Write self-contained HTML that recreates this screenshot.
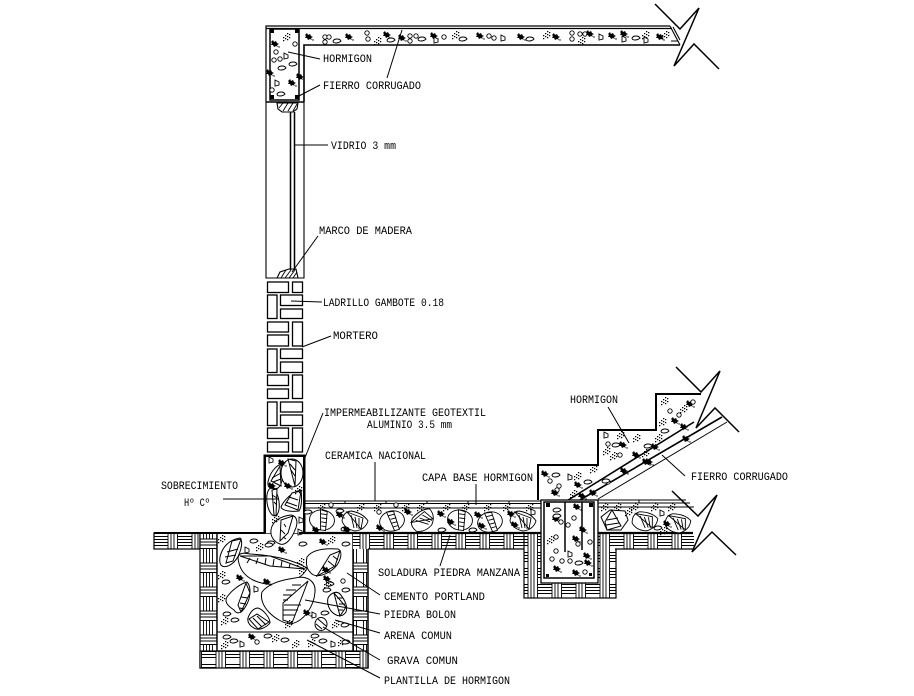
<!DOCTYPE html>
<html><head><meta charset="utf-8"><style>html,body{margin:0;padding:0;background:#fff}svg{display:block}text{font-family:"Liberation Mono",monospace;font-size:11px;fill:#000}</style></head><body>
<svg width="914" height="696" viewBox="0 0 914 696" xmlns="http://www.w3.org/2000/svg">
<defs>
<pattern id="w" width="24" height="16" patternUnits="userSpaceOnUse" patternTransform="translate(154 533)">
<rect width="24" height="16" fill="#fff"/><path d="M0 3.500H14M0 6.500H14M0 9.500H14M0 12.500H14M14 0V16M17 0V16M20 0V16M23.500 0V16" stroke="#000" stroke-width=".9" fill="none"/></pattern>
<pattern id="v" width="16" height="24" patternUnits="userSpaceOnUse" patternTransform="translate(200 549)">
<rect width="16" height="24" fill="#fff"/><path d="M3.500 0V14M6.500 0V14M9.500 0V14M12.500 0V14M0 14H16M0 17H16M0 20H16M0 23.500H16" stroke="#000" stroke-width=".9" fill="none"/></pattern>
<g id="a" fill="#000"><path d="M0 2l2-2 1 2 2-1 1 2 2 1-2 1 1 2-2-1-2 1-1-2-2 0 1-2z"/><circle cx="8" cy="7" r=".7"/></g>
<g id="b" fill="#000"><path d="M0 4h1.300v1.300H0zM2 2h1.300v1.300H2zM4 0h1.300v1.300H4zM2 5h1.300v1.300H2zM4 3h1.300v1.300H4zM6 1h1.300v1.300H6zM4 6h1.300v1.300H4zM6 4h1.300v1.300H6zM0 7h1.300v1.300H0z"/></g>
<circle id="c" r="2.200" fill="#fff" stroke="#000" stroke-width=".9"/>
<path id="d" d="M-4 0Q-3-2 0-2T4 0Q2 2-1 2T-4 0z" fill="#fff" stroke="#000" stroke-width=".9"/>
<path id="e" d="M-2-3L2-1 2 2-2 3z" fill="#fff" stroke="#000" stroke-width=".9"/>
<g id="s" fill="#fff" stroke="#000" stroke-width=".9"><ellipse rx="12.500" ry="10"/><path d="M-3-10L4-9 5 10 0 10z"/><path d="M-2-6L4-6M-1-2L5-2M-1 2L5 2M0 6L5 6" fill="none"/></g>
<g id="t" fill="#fff" stroke="#000" stroke-width=".9"><path d="M-13 0Q-12-9-4-10Q8-8 13 0Q10 9 0 10Q-10 8-13 0z"/><path d="M-8-9L8-3 6 8z"/><path d="M-4-6L-1 7M0-4L2 7M4-3L4 8" fill="none"/></g>
</defs>
<rect width="914" height="696" fill="#fff"/>

<!-- ROOF SLAB & COLUMN -->
<g fill="none" stroke="#000">
<path d="M266 102V26H670M266 28.500H672" stroke-width="1.200"/>
<path d="M304 102V45H680" stroke-width="1.600"/>
<path d="M670 26L680 45M673 27L680 40M671 41H678" stroke-width="1.100"/>
<path d="M270 100V29H299V100z" stroke-width="1.500"/>
<path d="M266 102H304" stroke-width="1.400"/>
<path d="M655 4L680 29 699 8 674 66 694 44 719 69" stroke-width="1.500"/>
</g>
<g fill="#000"><rect x="270" y="29" width="4" height="4"/><rect x="295" y="29" width="4" height="4"/><rect x="270" y="95" width="4" height="4"/><rect x="295" y="95" width="4" height="4"/></g>
<use href="#a" x="271" y="40"/><use href="#a" x="266" y="69"/><use href="#a" x="288" y="79"/><use href="#a" x="296" y="73"/>
<use href="#b" x="283" y="33"/><use href="#c" x="276" y="52"/><use href="#c" x="274" y="60"/><use href="#c" x="280" y="59"/><use href="#d" x="282" y="68"/><use href="#d" x="281" y="94"/><use href="#e" x="286" y="56"/><use href="#e" x="277" y="83"/><use href="#c" x="272" y="90"/><use href="#c" x="295" y="44"/><use href="#d" x="293" y="64"/>
<g id="sl">
<use href="#a" x="305" y="33"/><use href="#c" x="325" y="37"/><use href="#c" x="329" y="37"/><use href="#c" x="325" y="42"/><use href="#d" x="337" y="41"/><use href="#a" x="345" y="33"/><use href="#c" x="367" y="33"/><use href="#c" x="368" y="39"/><use href="#b" x="374" y="37"/><use href="#a" x="383" y="31"/><use href="#d" x="391" y="40"/><use href="#a" x="398" y="34"/><use href="#c" x="410" y="36"/><use href="#c" x="416" y="36"/><use href="#c" x="410" y="41"/><use href="#d" x="422" y="39"/><use href="#a" x="430" y="32"/><use href="#e" x="436" y="40"/><use href="#c" x="444" y="37"/><use href="#b" x="452" y="31"/><use href="#d" x="463" y="39"/><use href="#a" x="476" y="32"/><use href="#c" x="489" y="36"/><use href="#c" x="494" y="38"/><use href="#e" x="503" y="38"/><use href="#a" x="517" y="33"/><use href="#d" x="530" y="39"/><use href="#b" x="543" y="31"/><use href="#a" x="552" y="33"/><use href="#c" x="572" y="33"/><use href="#c" x="572" y="39"/><use href="#c" x="580" y="34"/><use href="#c" x="585" y="34"/><use href="#b" x="578" y="37"/><use href="#a" x="586" y="30"/><use href="#e" x="601" y="37"/><use href="#a" x="608" y="32"/><use href="#a" x="620" y="30"/><use href="#e" x="624" y="39"/><use href="#d" x="636" y="38"/><use href="#b" x="642" y="31"/><use href="#e" x="646" y="40"/><use href="#a" x="656" y="33"/><use href="#b" x="662" y="31"/>
</g>

<!-- WINDOW -->
<g fill="none" stroke="#000">
<path d="M266 102V278H304V102" stroke-width="1.100"/>
<path d="M290.500 112V270M294.500 112V270" stroke-width="1.500"/>
<path d="M277 103H298L297 109 293 112H282L278 109z" stroke-width="1.100"/>
<path d="M283 103L279 108M288 103L283 111M293 103L288 111M297 104L293 111" stroke-width=".9"/>
<path d="M277 278L280 272 289 269H296L298 278" stroke-width="1.100"/>
<path d="M281 278L286 270M285 278L291 270M289 278L295 270M293 278L297 272" stroke-width=".9"/>
</g>

<!-- BRICKS -->
<g fill="#fff" stroke="#000" stroke-width="1.300">
<rect x="267.500" y="282" width="21" height="10.500"/><rect x="292.500" y="282" width="10" height="10.500"/>
<rect x="267.500" y="295" width="9.500" height="23.500"/><rect x="280.500" y="295" width="22" height="10.500"/><rect x="280.500" y="309" width="22" height="9.500"/>
<rect x="267.500" y="322" width="21" height="10"/><rect x="267.500" y="335" width="21" height="11"/><rect x="292.500" y="322" width="10" height="24"/>
<rect x="267.500" y="349" width="9.500" height="23.500"/><rect x="280.500" y="349" width="22" height="9.500"/><rect x="280.500" y="362" width="22" height="10.500"/>
<rect x="267.500" y="375" width="21" height="10.500"/><rect x="267.500" y="389" width="21" height="9.500"/><rect x="292.500" y="375" width="10" height="23.500"/>
<rect x="267.500" y="402" width="9.500" height="23.500"/><rect x="280.500" y="402" width="22" height="10"/><rect x="280.500" y="415" width="22" height="10.500"/>
<rect x="267.500" y="428" width="21" height="10.500"/><rect x="267.500" y="442" width="21" height="10"/><rect x="292.500" y="428" width="10" height="24"/>
</g>

<!-- FOOTING 1 -->
<rect x="154" y="533" width="46" height="16" fill="url(#w)" stroke="#000" stroke-width="1.200"/>
<rect x="200" y="533" width="17" height="135" fill="url(#v)" stroke="#000" stroke-width="1.200"/>
<rect x="353" y="533" width="15" height="135" fill="url(#v)" stroke="#000" stroke-width="1.200"/>
<rect x="200" y="651" width="168" height="17" fill="url(#w)" stroke="#000" stroke-width="1.200"/>
<rect x="217" y="533" width="136" height="118" fill="#fff" stroke="#000" stroke-width="1.400"/>
<path d="M217 632H353" stroke="#000" stroke-width="1.100"/>
<rect x="353" y="533" width="171" height="16" fill="url(#w)"/>
<rect x="524" y="533" width="92" height="65" fill="url(#w)" stroke="#000" stroke-width="1.200"/>
<rect x="615" y="533" width="79" height="16" fill="url(#w)"/>
<path d="M368 549H524M368 549V668M615 549H693M353 533H540" stroke="#000" stroke-width="1.300" fill="none"/>

<!-- STONES IN FOOTING -->
<g fill="#fff" stroke="#000" stroke-width="1">
<path d="M220 557C222 548 228 540 240 538C244 542 240 556 234 562C228 568 218 570 220 557z"/><path d="M232 541L241 539 233 561 226 563z"/><path d="M227 552L238 549M225 557L236 555" fill="none"/>
<path d="M238 558C239 552 244 553 250 554C268 555 290 558 307 568C304 576 294 582 280 584C262 586 240 580 238 558z"/><path d="M240 556L270 556 305 569 270 566z"/><path d="M250 558L247 563M258 558L256 564M266 558L265 565M274 559L273 566M282 561L281 567M290 564L289 568" fill="none"/>
<path d="M262 592C268 584 280 580 295 578C308 575 316 582 315 592C314 606 304 622 290 624C276 622 258 606 262 592z"/><path d="M308 581L283 603 283 620 292 623z"/><path d="M301 585H292M296 590H286M292 595H283M288 600H283M284 605H301M283 610H298M283 615H295" fill="none"/>
<path d="M307 557C312 550 324 548 338 549C344 552 340 564 332 570C324 576 314 578 310 572C306 568 306 562 307 557z"/><path d="M340 551L330 555 317 576 335 566z"/><path d="M333 556L338 560M328 561L334 566M323 567L329 571" fill="none"/>
<path d="M227 597C232 590 240 584 247 582C251 586 251 596 247 604C243 612 238 616 234 610C228 606 224 602 227 597z"/><path d="M246 583L250 593 241 612 238 605z"/><path d="M241 597L248 598M240 603L246 604M240 608L244 609" fill="none"/>
<path d="M248 618C250 612 254 608 258 608C264 610 270 618 270 623C266 628 258 631 254 628C250 626 247 622 248 618z"/><path d="M249 619L257 614 269 622 258 629z"/><path d="M253 618L262 627M257 616L266 625" fill="none"/>
<path d="M328 598C330 594 336 590 340 594C345 600 348 606 346 612C342 618 336 616 332 612C328 608 327 602 328 598z"/><path d="M334 593L346 607 340 616z"/><path d="M337 598H343M339 604H345M339 610H343" fill="none"/>
<ellipse cx="321" cy="624" rx="6" ry="6.500"/><path d="M318 619L326 626M316 624L322 629" fill="none"/>
</g>
<use href="#b" x="218" y="535"/><use href="#b" x="256" y="543"/><use href="#a" x="278" y="546"/><use href="#a" x="319" y="538"/><use href="#b" x="328" y="536"/><use href="#d" x="254" y="541"/><use href="#d" x="271" y="543"/><use href="#d" x="269" y="545"/><use href="#d" x="303" y="544"/><use href="#d" x="346" y="544"/>
<use href="#e" x="247" y="550"/><use href="#b" x="218" y="571"/><use href="#a" x="236" y="574"/><use href="#a" x="263" y="578"/><use href="#b" x="297" y="558"/><use href="#a" x="322" y="566"/><use href="#b" x="299" y="566"/><use href="#a" x="323" y="575"/><use href="#d" x="226" y="582"/><use href="#d" x="330" y="584"/><use href="#b" x="218" y="594"/><use href="#e" x="256" y="589"/><use href="#d" x="327" y="590"/><use href="#c" x="343" y="581"/><use href="#d" x="346" y="590"/><use href="#b" x="324" y="580"/>
<use href="#d" x="227" y="614"/><use href="#b" x="221" y="617"/><use href="#d" x="235" y="620"/><use href="#a" x="303" y="609"/><use href="#e" x="314" y="615"/><use href="#d" x="325" y="613"/><use href="#b" x="332" y="620"/><use href="#d" x="345" y="625"/><use href="#b" x="285" y="620"/>
<use href="#d" x="227" y="637"/><use href="#d" x="234" y="641"/><use href="#e" x="242" y="644"/><use href="#b" x="221" y="641"/><use href="#a" x="248" y="633"/><use href="#c" x="257" y="642"/><use href="#d" x="268" y="636"/><use href="#b" x="272" y="634"/><use href="#d" x="285" y="640"/><use href="#b" x="292" y="640"/><use href="#b" x="308" y="639"/><use href="#d" x="315" y="636"/><use href="#d" x="323" y="641"/><use href="#e" x="333" y="644"/><use href="#b" x="338" y="638"/><use href="#d" x="346" y="642"/>

<!-- SOBRECIMIENTO -->
<path d="M265 533V456H304V533" fill="#fff" stroke="#000" stroke-width="2"/>
<g fill="#fff" stroke="#000" stroke-width="1">
<path d="M268 482C270 472 276 466 281 464C284 472 283 484 278 488C272 490 267 488 268 482z"/><path d="M271 481L280 466 281 486z"/><path d="M272 478L281 473M273 482L281 479" fill="none"/>
<ellipse cx="292" cy="473" rx="11" ry="14"/><path d="M288 459L296 461 295 486z"/><path d="M290 464L295 470M291 470L295 476" fill="none"/>
<ellipse cx="273" cy="502" rx="6" ry="14" transform="rotate(-8 273 502)"/><path d="M272 490L277 489 276 516 274 515z"/><path d="M272 495L277 498M274 502L277 505" fill="none"/>
<path d="M281 507C284 500 292 492 301 490C302 498 302 506 299 511C292 512 282 511 281 507z"/><path d="M285 505L292 493 301 491 298 510z"/><path d="M289 497L298 500M286 502L297 506" fill="none"/>
<path d="M271 530C272 522 280 516 291 515C298 516 298 524 295 530C292 538 286 546 280 544C274 542 270 536 271 530z"/><path d="M280 541L281 520 293 516 288 533z"/><path d="M284 524L286 527M281 530L285 534M283 537L286 539" fill="none"/>
</g>
<use href="#a" x="278" y="459"/><use href="#e" x="271" y="460"/><use href="#a" x="268" y="482"/><use href="#a" x="284" y="482"/><use href="#b" x="295" y="486"/><use href="#b" x="272" y="515"/><use href="#e" x="301" y="520"/><use href="#e" x="300" y="532"/>
<path d="M264.500 534V455.500H304.500V533H299" fill="none" stroke="#000" stroke-width="2"/>
<path d="M154 533H265" stroke="#000" stroke-width="2"/>

<!-- FLOOR -->
<g fill="none" stroke="#000">
<path d="M304 501H541M304 503.500H541M304 508H541" stroke-width="1"/>
<path d="M304 533H541" stroke-width="2.200"/>
<path d="M345 501V504M386 501V504M427 501V504M468 501V504M509 501V504" stroke-width="1"/>
</g>
<g id="fl">
<use href="#b" x="318" y="503"/><use href="#c" x="331" y="505"/><use href="#b" x="357" y="503"/><use href="#b" x="374" y="503"/><use href="#c" x="396" y="505"/><use href="#b" x="402" y="503"/><use href="#b" x="417" y="503"/><use href="#b" x="443" y="503"/><use href="#b" x="462" y="503"/><use href="#b" x="484" y="503"/><use href="#b" x="503" y="503"/><use href="#b" x="526" y="503"/>
</g>
<use href="#s" transform="translate(322 520) rotate(8)"/><use href="#t" transform="translate(355 521)"/><use href="#s" transform="translate(392 521) rotate(-15)"/><use href="#t" transform="translate(423 520) rotate(-60)"/><use href="#s" transform="translate(460 520) rotate(8)"/><use href="#s" transform="translate(490 522) rotate(-15)"/><use href="#t" transform="translate(523 521)"/>
<use href="#d" x="308" y="512"/><use href="#d" x="340" y="511"/><use href="#a" x="312" y="526"/><use href="#a" x="336" y="511"/><use href="#d" x="345" y="529"/><use href="#a" x="343" y="526"/><use href="#a" x="376" y="524"/><use href="#c" x="379" y="512"/><use href="#a" x="404" y="508"/><use href="#a" x="437" y="510"/><use href="#d" x="442" y="530"/><use href="#a" x="447" y="518"/><use href="#d" x="473" y="530"/><use href="#a" x="474" y="511"/><use href="#a" x="478" y="522"/><use href="#a" x="507" y="510"/><use href="#a" x="511" y="521"/><use href="#e" x="533" y="512"/>

<!-- RIGHT STAIRS + BEAM -->
<path d="M538 500V465H598V430H656V394H710L696 428 565 502z" fill="#fff" stroke="none"/>
<g fill="none" stroke="#000">
<path d="M538 500V465H598V430H656V394H701" stroke-width="2"/>
<path d="M676 367L701 392 720 371 696 428 715 408 739 432" stroke-width="1.500"/>
<path d="M565 502L694 422" stroke-width="1.600"/>
<path d="M580 500L722 417" stroke-width="1.600"/>
<path d="M598 499L727 422" stroke-width="1"/>
</g>
<use href="#a" x="541" y="470"/><use href="#c" x="550" y="481"/><use href="#d" x="556" y="475"/><use href="#e" x="570" y="477"/><use href="#b" x="574" y="472"/><use href="#c" x="559" y="486"/><use href="#c" x="557" y="490"/><use href="#a" x="551" y="489"/><use href="#a" x="574" y="481"/><use href="#d" x="588" y="482"/><use href="#b" x="570" y="490"/><use href="#b" x="590" y="465"/><use href="#c" x="608" y="482"/><use href="#a" x="578" y="492"/><use href="#d" x="606" y="481"/>
<use href="#e" x="606" y="435"/><use href="#b" x="617" y="431"/><use href="#b" x="633" y="434"/><use href="#d" x="616" y="445"/><use href="#a" x="619" y="441"/><use href="#c" x="608" y="444"/><use href="#b" x="603" y="447"/><use href="#b" x="610" y="452"/><use href="#c" x="620" y="455"/><use href="#a" x="632" y="451"/><use href="#b" x="642" y="449"/><use href="#b" x="655" y="434"/><use href="#a" x="651" y="443"/><use href="#d" x="648" y="446"/>
<use href="#b" x="661" y="397"/><use href="#c" x="670" y="411"/><use href="#b" x="659" y="418"/><use href="#a" x="671" y="417"/><use href="#c" x="679" y="415"/><use href="#d" x="665" y="431"/><use href="#a" x="686" y="400"/><use href="#b" x="680" y="405"/><use href="#c" x="693" y="402"/><use href="#a" x="680" y="423"/><use href="#a" x="682" y="435"/>
<use href="#a" x="620" y="467"/><use href="#a" x="642" y="458"/><use href="#a" x="645" y="458"/><use href="#a" x="589" y="489"/>

<!-- beam -->
<rect x="541" y="500" width="57" height="83" fill="#fff" stroke="#000" stroke-width="1.300"/>
<rect x="544" y="502" width="50" height="76" fill="#fff" stroke="#000" stroke-width="1.500"/>
<path d="M565 502V552M582 502V550" stroke="#000" stroke-width="1.500" fill="none"/>
<rect x="546" y="503" width="4" height="4"/><rect x="589" y="503" width="4" height="4"/><rect x="546" y="574" width="3" height="3"/><rect x="589" y="573" width="3" height="3"/>
<use href="#d" x="557" y="510"/><use href="#a" x="573" y="503"/><use href="#a" x="552" y="515"/><use href="#c" x="561" y="522"/><use href="#d" x="557" y="516"/><use href="#c" x="568" y="525"/><use href="#c" x="574" y="518"/><use href="#a" x="579" y="526"/><use href="#a" x="572" y="535"/><use href="#b" x="547" y="536"/><use href="#c" x="556" y="537"/><use href="#c" x="578" y="544"/><use href="#c" x="590" y="542"/><use href="#c" x="556" y="551"/><use href="#e" x="570" y="554"/><use href="#c" x="552" y="559"/><use href="#a" x="583" y="552"/><use href="#a" x="553" y="565"/><use href="#c" x="562" y="561"/><use href="#c" x="570" y="561"/><use href="#d" x="579" y="563"/><use href="#a" x="584" y="559"/><use href="#a" x="572" y="569"/><use href="#c" x="585" y="572"/>

<!-- RIGHT FLOOR -->
<path d="M598 500H686M598 503H690M598 507H694" fill="none" stroke="#000" stroke-width="1"/>
<path d="M598 533H693" stroke="#000" stroke-width="2.200"/>
<path d="M639 500V503" stroke="#000"/>
<use href="#b" x="601" y="503"/><use href="#b" x="614" y="503"/><use href="#b" x="631" y="503"/><use href="#b" x="651" y="503"/><use href="#b" x="668" y="503"/>
<g fill="#fff" stroke="#000" stroke-width="1">
<path d="M601 517L610 510 625 511 628 520 621 530 607 530z"/><path d="M612 510L621 526 607 530 605 522z"/><path d="M607 520L618 518M606 525L619 523" fill="none"/>
</g>
<use href="#t" transform="translate(645 521) rotate(-10)"/><use href="#t" transform="translate(678 523) rotate(-10)"/>
<use href="#b" x="625" y="508"/><use href="#e" x="662" y="513"/><use href="#a" x="663" y="520"/><use href="#b" x="660" y="527"/><use href="#d" x="658" y="528"/>
<path d="M672 491L698 516 717 495 692 552 712 532 736 555" fill="none" stroke="#000" stroke-width="1.500"/>

<!-- LEADERS -->
<g fill="none" stroke="#000" stroke-width="1">
<path d="M288 52L320 59M297 97L320 85M402 30L387 78M294 145H328M292 272L318 236M291 301L322 302M302 347L331 336M304 460L323 413M375 462V501M476 484V505M223 499H278M450 535L440 566M347 573L380 595M305 600L380 614M335 620L380 633M323 627L380 660M307 640L380 678M608 407L629 443M662 455L685 476"/>
</g>

<!-- LABELS -->
<text x="323" y="62" textLength="49" lengthAdjust="spacingAndGlyphs">HORMIGON</text>
<text x="323" y="89" textLength="98" lengthAdjust="spacingAndGlyphs">FIERRO CORRUGADO</text>
<text x="331" y="149" textLength="65" lengthAdjust="spacingAndGlyphs">VIDRIO 3 mm</text>
<text x="319" y="234" textLength="93" lengthAdjust="spacingAndGlyphs">MARCO DE MADERA</text>
<text x="323" y="306" textLength="121" lengthAdjust="spacingAndGlyphs">LADRILLO GAMBOTE 0.18</text>
<text x="333" y="339" textLength="45" lengthAdjust="spacingAndGlyphs">MORTERO</text>
<text x="324" y="416" textLength="162" lengthAdjust="spacingAndGlyphs">IMPERMEABILIZANTE GEOTEXTIL</text>
<text x="367" y="428" textLength="85" lengthAdjust="spacingAndGlyphs">ALUMINIO 3.5 mm</text>
<text x="325" y="459" textLength="101" lengthAdjust="spacingAndGlyphs">CERAMICA NACIONAL</text>
<text x="422" y="481" textLength="111" lengthAdjust="spacingAndGlyphs">CAPA BASE HORMIGON</text>
<text x="161" y="489" textLength="77" lengthAdjust="spacingAndGlyphs">SOBRECIMIENTO</text>
<text x="184" y="506" textLength="26" lengthAdjust="spacingAndGlyphs">Hº Cº</text>
<text x="570" y="403" textLength="48" lengthAdjust="spacingAndGlyphs">HORMIGON</text>
<text x="691" y="480" textLength="97" lengthAdjust="spacingAndGlyphs">FIERRO CORRUGADO</text>
<text x="378" y="576" textLength="142" lengthAdjust="spacingAndGlyphs">SOLADURA PIEDRA MANZANA</text>
<text x="384" y="600" textLength="101" lengthAdjust="spacingAndGlyphs">CEMENTO PORTLAND</text>
<text x="384" y="618" textLength="72" lengthAdjust="spacingAndGlyphs">PIEDRA BOLON</text>
<text x="384" y="639" textLength="68" lengthAdjust="spacingAndGlyphs">ARENA COMUN</text>
<text x="387" y="664" textLength="71" lengthAdjust="spacingAndGlyphs">GRAVA COMUN</text>
<text x="384" y="684" textLength="126" lengthAdjust="spacingAndGlyphs">PLANTILLA DE HORMIGON</text>
</svg>
</body></html>
